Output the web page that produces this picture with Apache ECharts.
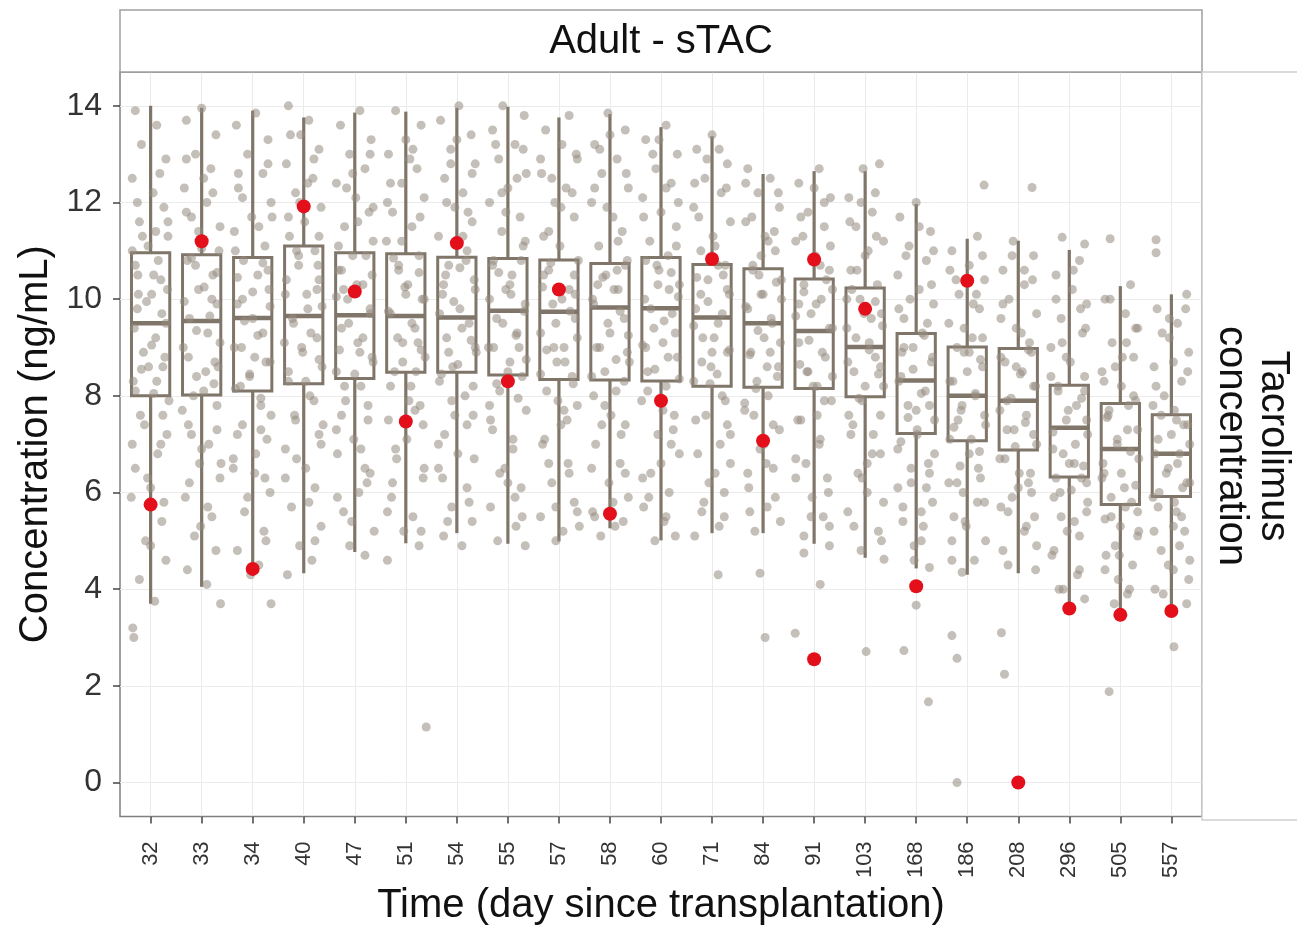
<!DOCTYPE html>
<html>
<head>
<meta charset="utf-8">
<title>Adult - sTAC</title>
<script src="https://cdn.jsdelivr.net/npm/echarts@6/dist/echarts.min.js"></script>
<style>
html, body { margin: 0; padding: 0; background: #fff; }
#chart { width: 1297px; height: 931px; }
</style>
</head>
<body>
<div id="chart"></div>
<script>
// days since transplantation (x categories)
var days = ['32', '33', '34', '40', '47', '51', '54', '55', '57', '58', '60',
  '71', '84', '91', '103', '168', '186', '208', '296', '505', '557'];

// box stats per day: [lower whisker, Q1, median, Q3, upper whisker]
var boxStats = [
  [3.70, 8.00, 9.50, 10.96, 14.00],
  [4.05, 8.02, 9.55, 10.92, 13.96],
  [4.28, 8.10, 9.61, 10.86, 13.90],
  [4.33, 8.25, 9.65, 11.10, 13.76],
  [4.77, 8.36, 9.67, 10.96, 13.86],
  [4.95, 8.49, 9.65, 10.94, 13.88],
  [5.16, 8.49, 9.62, 10.87, 13.96],
  [4.94, 8.43, 9.76, 10.84, 13.98],
  [4.99, 8.34, 9.74, 10.81, 13.76],
  [5.26, 8.33, 9.83, 10.74, 13.83],
  [5.01, 8.31, 9.81, 10.86, 13.56],
  [5.16, 8.20, 9.62, 10.72, 13.37],
  [5.16, 8.18, 9.50, 10.63, 12.59],
  [4.94, 8.15, 9.34, 10.42, 12.65],
  [4.65, 7.98, 9.01, 10.23, 12.65],
  [4.43, 7.22, 8.32, 9.29, 11.97],
  [4.30, 7.07, 8.00, 9.01, 11.25],
  [4.33, 6.88, 7.90, 8.98, 11.21],
  [3.71, 6.32, 7.34, 8.22, 11.02],
  [3.55, 5.75, 6.90, 7.84, 10.27],
  [3.60, 5.92, 6.80, 7.61, 10.10]
];

// observed concentrations, [jitter offset, value], one list per day (spread / tails)
var obs = [
  [[-0.3,13.9],[0.12,13.6],[-0.18,13.2],[0.3,12.9],[-0.36,12.5],[0.05,12.2],[0.26,11.9],[-0.22,11.6],[0.34,11.3],[-0.05,11.1],[-0.3,10.7],[0.2,10.4],[0.02,10.1],[-0.26,9.8],[0.3,9.5],[0.1,9.2],[-0.14,8.9],[0.24,8.6],[-0.34,8.3],[0.06,8.05],[-0.2,7.6],[0.32,7.2],[0.14,6.8],[-0.3,6.5],[0.0,6.1],[-0.38,5.9],[0.22,5.4],[-0.1,5.0],[0.3,4.6],[-0.22,4.2],[0.08,3.75],[-0.35,3.2],[-0.33,3.0]],
  [[0.0,13.95],[-0.3,13.7],[0.28,13.4],[-0.12,13.0],[0.18,12.7],[-0.34,12.3],[0.1,12.0],[-0.2,11.7],[0.36,11.5],[0.0,11.05],[-0.28,10.8],[0.22,10.5],[-0.06,10.2],[0.3,9.9],[-0.24,9.6],[0.12,9.3],[-0.36,9.0],[0.26,8.7],[-0.1,8.4],[0.04,8.1],[0.3,7.8],[-0.26,7.4],[0.14,7.0],[-0.04,6.6],[0.36,6.3],[-0.32,5.9],[0.2,5.5],[-0.14,5.1],[0.28,4.8],[-0.28,4.4],[0.1,4.1],[0.37,3.7]],
  [[0.06,13.85],[-0.32,13.6],[0.3,13.3],[-0.1,13.0],[0.2,12.6],[-0.28,12.3],[0.36,12.0],[-0.02,11.7],[-0.36,11.4],[0.24,11.1],[-0.18,10.8],[0.1,10.5],[0.32,10.2],[-0.3,9.9],[0.0,9.6],[0.2,9.3],[-0.22,9.0],[0.34,8.7],[-0.06,8.4],[-0.34,8.15],[0.16,7.8],[-0.2,7.4],[0.28,7.1],[-0.38,6.7],[0.04,6.4],[0.34,6.0],[-0.16,5.6],[0.22,5.2],[-0.3,4.8],[0.12,4.5],[-0.04,4.3],[0.36,3.7]],
  [[-0.3,14.0],[0.1,13.7],[-0.06,13.4],[0.3,13.1],[-0.34,12.8],[0.18,12.5],[-0.16,12.2],[0.34,11.9],[0.02,11.6],[-0.28,11.3],[0.22,11.0],[-0.1,10.7],[0.3,10.4],[-0.36,10.1],[0.08,9.8],[-0.2,9.5],[0.26,9.2],[-0.02,8.9],[0.36,8.6],[-0.3,8.3],[0.12,8.0],[-0.18,7.6],[0.3,7.2],[-0.36,6.9],[0.04,6.5],[0.22,6.1],[-0.24,5.7],[0.34,5.3],[-0.08,4.9],[0.16,4.6],[-0.32,4.3]],
  [[0.1,13.9],[-0.28,13.6],[0.32,13.3],[-0.1,13.0],[0.2,12.7],[-0.36,12.4],[0.02,12.1],[0.28,11.8],[-0.2,11.5],[0.36,11.2],[-0.04,10.9],[-0.32,10.6],[0.16,10.3],[-0.14,10.0],[0.3,9.7],[-0.26,9.4],[0.06,9.1],[0.34,8.8],[-0.36,8.5],[0.12,8.2],[-0.18,7.9],[0.26,7.5],[-0.02,7.1],[-0.34,6.8],[0.3,6.4],[0.08,6.0],[-0.22,5.6],[0.38,5.2],[-0.1,4.9],[0.2,4.7]],
  [[-0.2,13.9],[0.3,13.6],[0.0,13.3],[-0.34,13.0],[0.22,12.7],[-0.08,12.4],[0.36,12.1],[-0.26,11.8],[0.12,11.5],[-0.38,11.2],[0.26,10.9],[-0.14,10.6],[0.04,10.3],[0.32,10.0],[-0.3,9.7],[0.18,9.4],[-0.06,9.1],[0.38,8.8],[-0.22,8.5],[0.1,8.2],[0.28,7.8],[-0.34,7.5],[0.02,7.1],[-0.18,6.7],[0.34,6.3],[-0.28,5.9],[0.14,5.5],[-0.04,5.2],[0.26,4.9],[-0.36,4.6],[0.4,1.15]],
  [[0.04,14.0],[-0.32,13.7],[0.28,13.4],[-0.12,13.1],[0.36,12.8],[-0.24,12.5],[0.12,12.2],[-0.04,11.9],[0.3,11.6],[-0.36,11.3],[0.2,11.0],[-0.16,10.7],[0.34,10.4],[-0.28,10.1],[0.06,9.8],[0.24,9.5],[-0.2,9.2],[0.38,8.9],[-0.08,8.6],[-0.34,8.3],[0.16,8.0],[0.32,7.6],[-0.24,7.2],[0.02,6.8],[-0.36,6.5],[0.2,6.1],[-0.1,5.7],[0.3,5.4],[-0.26,5.1],[0.1,4.9]],
  [[-0.1,14.0],[0.32,13.8],[-0.3,13.5],[0.14,13.2],[-0.18,12.9],[0.36,12.6],[0.0,12.3],[-0.36,12.0],[0.24,11.7],[-0.12,11.4],[0.3,11.1],[-0.28,10.8],[0.08,10.5],[-0.04,10.2],[0.34,9.9],[-0.22,9.6],[0.18,9.3],[-0.38,9.0],[0.04,8.7],[0.28,8.4],[-0.16,8.1],[0.36,7.7],[-0.3,7.3],[0.1,6.9],[-0.06,6.5],[0.26,6.1],[-0.34,5.7],[0.16,5.3],[-0.2,5.0],[0.34,4.9]],
  [[0.2,13.8],[-0.26,13.5],[0.06,13.2],[0.36,12.9],[-0.34,12.6],[0.14,12.3],[-0.08,12.0],[0.3,11.7],[-0.2,11.4],[0.02,11.1],[0.38,10.8],[-0.3,10.5],[0.2,10.2],[-0.12,9.9],[0.32,9.6],[-0.36,9.3],[0.1,9.0],[-0.04,8.7],[0.26,8.4],[-0.24,8.1],[0.36,7.8],[0.04,7.4],[-0.32,7.0],[0.18,6.6],[-0.14,6.2],[0.3,5.8],[-0.36,5.5],[0.08,5.2],[-0.06,5.0],[0.4,5.3]],
  [[-0.04,13.85],[0.3,13.5],[-0.3,13.2],[0.14,12.9],[-0.16,12.6],[0.36,12.3],[-0.36,12.0],[0.06,11.7],[0.24,11.4],[-0.22,11.1],[0.34,10.8],[-0.08,10.5],[0.16,10.2],[-0.32,9.9],[0.28,9.6],[0.0,9.3],[-0.2,9.0],[0.38,8.7],[-0.36,8.4],[0.12,8.1],[-0.1,7.8],[0.3,7.4],[-0.28,7.0],[0.2,6.6],[-0.02,6.2],[0.36,5.9],[-0.34,5.6],[0.1,5.3],[-0.18,5.1],[0.26,5.4]],
  [[0.1,13.6],[-0.3,13.3],[0.32,13.0],[-0.1,12.7],[0.2,12.4],[-0.36,12.1],[0.0,11.8],[0.3,11.5],[-0.22,11.2],[0.14,10.9],[-0.04,10.6],[0.36,10.3],[-0.32,10.0],[0.22,9.7],[-0.14,9.4],[0.04,9.1],[0.32,8.8],[-0.26,8.5],[0.1,8.2],[-0.38,7.9],[0.26,7.6],[-0.06,7.2],[0.36,6.8],[-0.2,6.4],[0.16,6.0],[-0.34,5.7],[0.06,5.4],[0.28,5.1],[-0.12,5.0]],
  [[0.0,13.4],[-0.3,13.1],[0.3,12.8],[-0.14,12.5],[0.18,12.2],[-0.36,11.9],[0.36,11.6],[0.02,11.3],[-0.22,11.0],[0.26,10.7],[-0.08,10.4],[0.34,10.1],[-0.32,9.8],[0.12,9.5],[-0.18,9.2],[0.3,8.9],[-0.02,8.6],[-0.36,8.3],[0.2,8.0],[-0.12,7.6],[0.36,7.2],[-0.28,6.8],[0.06,6.4],[0.24,6.0],[-0.2,5.6],[0.14,5.3],[-0.34,5.1],[0.12,4.3]],
  [[-0.3,12.7],[0.14,12.5],[-0.1,12.2],[0.32,11.9],[-0.34,11.6],[0.04,11.3],[0.24,11.0],[-0.2,10.7],[0.36,10.4],[-0.04,10.1],[-0.3,9.8],[0.18,9.5],[0.02,9.2],[-0.24,8.9],[0.3,8.6],[-0.12,8.3],[0.1,8.0],[-0.36,7.7],[0.32,7.3],[-0.06,6.9],[0.2,6.5],[-0.28,6.1],[0.08,5.7],[0.34,5.4],[-0.16,5.2],[-0.06,4.33],[0.04,3.0]],
  [[0.1,12.7],[-0.3,12.4],[0.32,12.1],[-0.12,11.8],[0.2,11.5],[-0.36,11.2],[0.02,10.9],[0.3,10.6],[-0.2,10.3],[0.14,10.0],[-0.06,9.7],[0.36,9.4],[-0.3,9.1],[0.22,8.8],[-0.14,8.5],[0.06,8.2],[0.34,7.9],[-0.26,7.5],[0.12,7.1],[-0.36,6.7],[0.26,6.3],[-0.04,5.9],[0.18,5.5],[-0.2,5.1],[0.3,4.9],[-0.2,4.75],[-0.37,3.09],[0.12,4.1]],
  [[-0.04,12.7],[0.28,12.8],[-0.32,12.1],[0.14,11.8],[-0.18,11.5],[0.36,11.2],[0.0,10.9],[-0.28,10.6],[0.24,10.3],[-0.1,10.0],[0.32,9.7],[-0.36,9.4],[0.08,9.1],[0.2,8.8],[-0.22,8.5],[0.36,8.2],[-0.06,7.9],[-0.32,7.6],[0.16,7.2],[0.3,6.8],[-0.14,6.4],[0.04,6.0],[-0.34,5.6],[0.26,5.2],[-0.08,4.8],[0.37,4.62],[0.02,2.71]],
  [[0.0,12.0],[-0.32,11.7],[0.28,11.4],[-0.14,11.1],[0.2,10.8],[-0.36,10.5],[0.06,10.2],[0.34,9.9],[-0.24,9.6],[0.12,9.3],[-0.06,9.0],[0.3,8.7],[-0.3,8.4],[0.18,8.1],[-0.16,7.8],[0.36,7.5],[0.02,7.2],[-0.36,6.9],[0.24,6.6],[-0.1,6.2],[0.32,5.8],[-0.26,5.4],[0.1,5.0],[-0.04,4.6],[0.26,4.45],[-0.24,2.73],[0.0,3.67],[0.24,1.67]],
  [[0.2,11.3],[-0.3,11.0],[0.04,10.7],[0.34,10.4],[-0.16,10.1],[0.24,9.8],[-0.36,9.5],[0.1,9.2],[-0.06,8.9],[0.3,8.6],[-0.28,8.3],[0.16,8.0],[-0.12,7.7],[0.36,7.4],[-0.34,7.1],[0.04,6.8],[0.22,6.5],[-0.2,6.2],[0.34,5.8],[-0.04,5.4],[-0.3,5.0],[0.14,4.6],[-0.1,4.35],[0.33,12.36],[-0.3,3.04],[-0.2,2.57],[-0.2,0.0]],
  [[0.27,12.31],[-0.1,11.2],[0.3,10.9],[-0.3,10.6],[0.12,10.3],[-0.18,10.0],[0.36,9.7],[-0.04,9.4],[0.22,9.1],[-0.34,8.8],[0.08,8.5],[0.3,8.2],[-0.22,7.9],[0.16,7.6],[-0.08,7.3],[0.36,7.0],[-0.36,6.7],[0.02,6.4],[0.26,6.0],[-0.2,5.6],[0.12,5.2],[-0.3,4.8],[0.34,4.4],[-0.33,3.1],[-0.27,2.24]],
  [[-0.14,11.28],[0.3,11.14],[0.2,10.8],[-0.26,10.5],[0.06,10.2],[0.34,9.9],[-0.16,9.6],[0.26,9.3],[-0.36,9.0],[0.02,8.7],[0.3,8.4],[-0.22,8.1],[0.14,7.8],[-0.06,7.5],[0.36,7.2],[-0.32,6.9],[0.1,6.6],[0.24,6.3],[-0.18,6.0],[0.34,5.6],[-0.04,5.2],[-0.3,4.8],[0.2,4.4],[-0.12,4.0],[0.3,3.8]],
  [[-0.2,11.25],[0.2,10.3],[-0.3,10.0],[0.1,9.7],[0.34,9.4],[-0.16,9.1],[0.26,8.8],[-0.36,8.5],[0.02,8.2],[0.3,7.9],[-0.24,7.6],[0.14,7.3],[-0.06,7.0],[0.36,6.7],[-0.32,6.4],[0.08,6.1],[0.22,5.8],[-0.18,5.5],[0.34,5.1],[-0.02,4.7],[-0.3,4.4],[0.18,4.0],[-0.12,3.7],[-0.22,1.88]],
  [[-0.3,11.23],[-0.3,10.96],[0.3,10.1],[-0.28,9.8],[0.12,9.5],[-0.04,9.2],[0.34,8.9],[-0.34,8.6],[0.2,8.3],[-0.14,8.0],[0.06,7.7],[0.32,7.4],[-0.26,7.1],[0.16,6.8],[-0.06,6.5],[0.36,6.2],[-0.36,5.9],[0.1,5.6],[0.26,5.2],[-0.2,4.8],[0.04,4.4],[-0.32,4.0],[0.3,3.7],[0.05,2.81]]
];

// more observed concentrations, [jitter offset, value], mostly around the boxes
var obsCore = [
  [[0.15,10.8],[-0.25,10.5],[0.33,10.2],[-0.08,9.95],[0.22,9.7],[-0.32,9.4],[0.02,9.05],[0.28,8.8],[-0.18,8.55],[0.12,8.3],[-0.3,8.1],[0.36,7.9],[-0.12,7.4],[0.2,7.0],[-0.26,12.0],[0.1,11.4],[-0.36,11.0],[0.18,12.6],[-0.06,6.3],[0.26,5.8],[-0.24,10.1],[0.06,10.5],[-0.04,8.6],[0.34,11.6],[-0.16,11.3],[0.24,7.6],[-0.36,7.0],[0.0,4.9]],
  [[-0.2,10.85],[0.3,10.55],[0.05,10.25],[-0.34,9.95],[0.16,9.65],[-0.1,9.35],[0.36,9.1],[-0.26,8.8],[0.08,8.5],[0.24,8.25],[-0.16,8.0],[-0.38,7.7],[0.3,7.3],[0.0,6.9],[-0.3,12.9],[0.22,12.2],[-0.06,11.4],[0.34,11.0],[-0.24,6.2],[0.12,5.7],[0.2,10.0],[-0.12,10.7],[0.32,8.6],[-0.3,11.8],[0.04,12.5],[-0.2,7.2],[0.38,6.6],[-0.02,5.3]],
  [[0.2,10.75],[-0.3,10.45],[0.0,10.15],[0.34,9.85],[-0.16,9.55],[0.1,9.25],[-0.36,9.0],[0.26,8.7],[-0.06,8.45],[-0.24,8.2],[0.16,7.95],[0.36,7.6],[-0.3,7.2],[0.06,6.8],[0.3,12.8],[-0.2,12.1],[0.12,11.5],[-0.34,11.0],[0.24,6.3],[-0.1,5.9],[-0.2,10.0],[0.3,10.6],[0.04,8.8],[0.38,11.7],[-0.28,12.6],[0.16,7.3],[-0.38,6.5],[0.26,5.0]],
  [[-0.14,11.0],[0.28,10.7],[-0.34,10.4],[0.06,10.1],[0.36,9.85],[-0.22,9.6],[0.14,9.3],[-0.04,9.0],[0.3,8.75],[-0.3,8.5],[0.04,8.3],[0.2,7.9],[-0.16,7.5],[0.34,7.0],[-0.26,13.4],[0.2,12.9],[-0.08,12.0],[0.3,11.3],[-0.36,6.3],[0.1,5.8],[0.26,10.2],[-0.1,10.9],[-0.38,9.1],[0.08,12.4],[-0.3,11.7],[0.38,7.4],[-0.14,6.7],[0.22,5.0]],
  [[0.22,10.9],[-0.26,10.6],[0.04,10.3],[-0.36,10.05],[0.3,9.8],[-0.12,9.5],[0.16,9.2],[-0.3,8.95],[0.36,8.7],[0.0,8.45],[-0.2,8.2],[0.26,7.8],[-0.36,7.3],[0.12,6.9],[0.3,13.0],[-0.16,12.3],[0.06,11.6],[-0.32,11.1],[0.24,6.2],[-0.06,5.4],[-0.22,10.2],[0.34,10.5],[0.1,8.9],[-0.04,12.6],[0.36,11.9],[-0.26,7.6],[0.2,6.5],[-0.34,5.9]],
  [[-0.24,10.85],[0.26,10.55],[-0.02,10.25],[0.36,10.0],[-0.34,9.75],[0.12,9.5],[-0.16,9.2],[0.3,8.95],[-0.06,8.7],[0.2,8.5],[-0.3,8.2],[0.06,7.9],[0.34,7.4],[-0.2,6.9],[0.14,13.1],[-0.3,12.4],[0.28,11.7],[-0.08,11.2],[0.36,6.5],[-0.36,5.6],[0.0,10.1],[-0.14,10.7],[0.24,9.1],[-0.36,12.0],[0.08,12.9],[0.18,7.7],[-0.26,6.2],[0.3,5.2]],
  [[0.18,10.8],[-0.22,10.5],[0.36,10.2],[-0.06,9.95],[-0.34,9.7],[0.1,9.4],[0.28,9.15],[-0.16,8.9],[0.02,8.65],[-0.3,8.45],[0.32,8.2],[-0.1,7.9],[0.2,7.4],[-0.36,7.0],[0.0,13.3],[0.3,12.6],[-0.2,12.0],[0.12,11.3],[-0.28,6.3],[0.24,5.8],[-0.26,10.3],[0.06,10.65],[0.36,9.0],[-0.12,12.8],[0.22,11.8],[-0.04,7.6],[0.34,6.7],[-0.18,5.4]],
  [[0.26,10.8],[-0.18,10.55],[0.04,10.3],[-0.36,10.0],[0.32,9.75],[-0.1,9.5],[0.16,9.25],[-0.28,9.0],[0.36,8.75],[0.0,8.5],[-0.22,8.25],[0.2,7.95],[-0.34,7.5],[0.1,7.1],[-0.24,13.2],[0.18,12.5],[-0.04,11.8],[0.34,11.2],[-0.16,6.4],[0.28,5.5],[0.06,10.1],[-0.3,10.7],[0.22,9.0],[-0.12,12.2],[0.3,13.1],[-0.36,7.8],[0.0,6.2],[0.14,5.9]],
  [[-0.16,10.75],[0.3,10.5],[-0.32,10.25],[0.06,10.0],[0.22,9.75],[-0.06,9.5],[0.36,9.2],[-0.24,8.95],[0.12,8.7],[-0.36,8.45],[0.28,8.25],[-0.02,7.9],[0.16,7.5],[-0.28,7.1],[0.34,13.0],[-0.14,12.5],[0.04,11.9],[-0.3,11.3],[0.2,6.4],[-0.06,5.7],[0.32,10.1],[-0.2,10.6],[-0.1,9.0],[0.26,12.2],[-0.36,12.9],[0.1,7.7],[-0.2,6.6],[0.36,5.6]],
  [[0.3,10.7],[-0.14,10.45],[0.08,10.2],[-0.34,10.0],[0.2,9.75],[-0.04,9.5],[0.36,9.25],[-0.26,9.0],[0.12,8.75],[-0.1,8.5],[0.28,8.3],[-0.32,8.0],[0.02,7.6],[0.22,7.2],[-0.2,13.1],[0.32,12.6],[-0.06,11.9],[0.16,11.2],[-0.36,6.5],[0.06,5.8],[-0.24,10.3],[0.14,10.6],[0.34,8.9],[-0.3,12.3],[0.0,13.4],[-0.16,7.4],[0.3,6.4],[-0.3,5.5]],
  [[-0.3,10.8],[0.2,10.55],[-0.06,10.3],[0.34,10.05],[-0.2,9.8],[0.06,9.55],[0.28,9.3],[-0.36,9.05],[0.14,8.8],[-0.12,8.55],[0.36,8.35],[-0.26,8.1],[0.04,7.7],[0.24,7.3],[-0.16,13.0],[0.1,12.3],[-0.34,11.7],[0.3,11.1],[0.0,6.6],[-0.24,5.9],[0.16,10.2],[-0.08,10.7],[-0.3,9.0],[0.34,12.0],[-0.04,13.3],[0.2,7.0],[-0.36,6.3],[0.1,5.5]],
  [[0.12,10.7],[-0.3,10.45],[0.3,10.2],[-0.08,9.95],[0.2,9.7],[-0.36,9.45],[0.04,9.2],[0.34,8.95],[-0.2,8.7],[0.1,8.45],[-0.04,8.25],[0.26,7.9],[-0.32,7.5],[0.16,7.0],[-0.1,12.9],[0.28,12.3],[-0.26,11.7],[0.06,11.1],[0.36,6.6],[-0.16,5.8],[-0.22,10.1],[0.22,10.5],[0.0,8.9],[-0.34,12.4],[0.14,13.1],[0.3,7.4],[-0.06,6.2],[0.24,5.5]],
  [[-0.2,10.6],[0.26,10.35],[0.0,10.1],[-0.34,9.85],[0.16,9.6],[-0.1,9.35],[0.34,9.1],[-0.26,8.85],[0.08,8.6],[0.28,8.4],[-0.14,8.15],[-0.36,7.85],[0.2,7.4],[0.02,7.0],[0.3,12.2],[-0.22,11.7],[0.1,11.2],[-0.04,10.9],[-0.3,6.4],[0.24,5.9],[0.36,10.0],[-0.08,10.5],[0.14,8.9],[-0.34,12.4],[0.22,11.4],[-0.18,7.6],[0.06,6.6],[-0.26,5.6]],
  [[0.24,10.4],[-0.2,10.15],[0.04,9.9],[-0.36,9.65],[0.3,9.4],[-0.1,9.15],[0.16,8.9],[-0.28,8.65],[0.36,8.4],[-0.02,8.2],[0.2,7.9],[-0.32,7.5],[0.1,7.0],[-0.16,6.6],[0.0,12.3],[-0.26,11.7],[0.32,11.1],[0.12,10.7],[0.28,6.0],[-0.06,5.5],[-0.3,9.9],[0.36,10.2],[-0.12,8.5],[0.2,12.0],[-0.22,11.3],[0.06,7.6],[-0.36,6.3],[0.3,5.3]],
  [[-0.26,10.2],[0.2,9.95],[-0.02,9.7],[0.34,9.45],[-0.18,9.2],[0.08,8.95],[-0.34,8.7],[0.26,8.45],[0.0,8.2],[-0.12,7.95],[0.3,7.6],[-0.28,7.2],[0.14,6.8],[-0.06,6.3],[0.2,12.2],[-0.3,11.6],[0.06,11.0],[-0.16,10.6],[0.36,5.8],[-0.22,5.3],[0.12,9.6],[-0.36,10.0],[0.3,8.6],[-0.08,12.0],[0.22,11.3],[-0.24,7.4],[0.04,6.6],[0.32,5.0]],
  [[0.16,9.25],[-0.24,9.0],[0.32,8.8],[-0.06,8.55],[-0.34,8.3],[0.1,8.05],[0.26,7.8],[-0.16,7.55],[0.02,7.3],[-0.3,7.05],[0.36,6.8],[-0.1,6.5],[0.2,6.1],[-0.26,5.7],[0.06,11.5],[-0.2,10.9],[0.3,10.3],[-0.34,9.8],[0.14,5.3],[-0.04,4.9],[-0.28,8.9],[0.22,9.5],[0.0,7.7],[0.34,11.0],[-0.12,10.0],[0.26,6.4],[-0.36,6.1],[0.1,5.6]],
  [[-0.2,9.0],[0.26,8.75],[0.0,8.5],[-0.34,8.3],[0.16,8.05],[-0.1,7.8],[0.34,7.6],[-0.26,7.35],[0.08,7.1],[0.24,6.85],[-0.14,6.55],[-0.36,6.2],[0.2,5.8],[-0.02,5.3],[0.3,10.9],[-0.22,10.4],[0.12,9.9],[-0.06,9.4],[0.36,5.0],[-0.3,4.6],[0.04,8.9],[0.3,9.2],[-0.18,7.5],[-0.34,10.6],[0.18,10.1],[-0.08,6.0],[0.26,6.3],[-0.26,5.5]],
  [[0.2,8.95],[-0.26,8.7],[0.04,8.45],[0.34,8.2],[-0.14,7.95],[-0.36,7.7],[0.14,7.45],[0.3,7.2],[-0.06,6.95],[-0.26,6.7],[0.24,6.4],[0.0,6.1],[-0.34,5.7],[0.16,5.3],[-0.12,10.9],[0.28,10.4],[-0.3,9.9],[0.06,9.3],[0.36,4.9],[-0.2,4.5],[-0.04,8.6],[0.26,8.9],[-0.22,7.3],[0.12,10.6],[-0.34,9.6],[0.2,6.2],[-0.12,5.9],[0.32,5.5]],
  [[-0.22,8.2],[0.24,7.95],[-0.02,7.7],[0.34,7.5],[-0.32,7.25],[0.12,7.0],[-0.12,6.8],[0.28,6.55],[-0.26,6.3],[0.04,6.05],[0.36,5.8],[-0.16,5.5],[0.2,5.1],[-0.34,4.7],[0.08,10.6],[-0.26,10.0],[0.32,9.4],[-0.06,8.8],[0.16,4.3],[-0.2,4.0],[0.3,8.1],[-0.36,8.4],[0.0,6.6],[0.22,9.8],[-0.14,9.1],[0.34,6.2],[-0.3,5.9],[0.1,5.4]],
  [[0.16,7.8],[-0.26,7.55],[0.34,7.3],[-0.06,7.1],[0.2,6.85],[-0.34,6.6],[0.02,6.4],[0.3,6.15],[-0.18,5.9],[0.1,5.7],[-0.3,5.45],[0.36,5.2],[-0.1,4.9],[0.24,4.5],[-0.2,10.0],[0.3,9.4],[0.04,8.8],[-0.32,8.3],[-0.04,4.2],[0.14,3.9],[-0.22,7.7],[0.26,8.0],[-0.36,6.3],[0.12,9.1],[-0.1,8.6],[0.34,5.6],[0.0,5.3],[-0.28,4.7]],
  [[-0.2,7.6],[0.24,7.4],[0.0,7.2],[0.36,7.0],[-0.32,6.8],[0.12,6.6],[-0.1,6.4],[0.3,6.2],[-0.24,6.0],[0.06,5.8],[0.2,5.5],[-0.34,5.2],[0.16,4.9],[-0.06,4.5],[0.28,9.8],[-0.18,9.3],[0.04,8.7],[-0.3,8.2],[0.34,4.2],[-0.16,3.9],[0.1,7.5],[-0.36,7.8],[0.22,6.1],[-0.04,9.6],[0.32,8.5],[-0.26,5.7],[0.04,5.3],[0.36,4.6]]
];

// highlighted patient, [day index, value]
var patient = [
  [0, 5.75], [1, 11.2], [2, 4.42], [3, 11.92], [4, 10.16], [5, 7.47], [6, 11.16],
  [7, 8.3], [8, 10.2], [9, 5.56], [10, 7.9], [11, 10.83], [12, 7.07], [13, 10.82],
  [13, 2.55], [14, 9.8], [15, 4.06], [16, 10.38], [17, 0], [18, 3.6], [19, 3.47], [20, 3.55]
];

var yTicks = [0, 2, 4, 6, 8, 10, 12, 14];

var boxColor = '#807569';
var font = 'Liberation Sans, Arial, Helvetica, sans-serif';

var boxData = boxStats.map(function (s, i) { return [i].concat(s); });
var xTicks = days.map(function (d, i) { return i; });
var jitterData = [];
obs.concat(obsCore).forEach(function (list, k) {
  var i = k % days.length;
  list.forEach(function (p) { jitterData.push([i + p[0], p[1]]); });
});

var chart = echarts.init(document.getElementById('chart'));

var option = {
  backgroundColor: '#fff',
  animation: false,
  textStyle: { fontFamily: font },
  grid: {
    left: 120, right: 95, top: 72, bottom: 111,
    show: true, borderColor: '#7f7f7f', borderWidth: 1.5, backgroundColor: '#fff'
  },
  xAxis: {
    type: 'value',
    min: -0.6, max: 20.6,
    name: 'Time (day since transplantation)',
    nameLocation: 'middle',
    nameGap: 64,
    nameTextStyle: { fontSize: 40, color: '#111', fontFamily: font },
    axisLine: { show: false, onZero: false },
    axisTick: { show: true, length: 7, lineStyle: { color: '#444', width: 1.5 }, customValues: xTicks },
    axisLabel: {
      rotate: 90, fontSize: 22, color: '#333', margin: 25,
      customValues: xTicks,
      formatter: function (v) { return days[Math.round(v)]; }
    },
    splitLine: { show: true, lineStyle: { color: '#ebebeb', width: 1 } }
  },
  yAxis: {
    type: 'value',
    min: -0.7, max: 14.7,
    name: 'Concentration (ng/mL)',
    nameLocation: 'middle',
    nameGap: 62,
    nameTextStyle: { fontSize: 40, color: '#111', fontFamily: font },
    axisLine: { show: false, onZero: false },
    axisTick: { show: true, length: 7, lineStyle: { color: '#444', width: 1.5 }, customValues: yTicks },
    axisLabel: { fontSize: 32, color: '#333', margin: 18, customValues: yTicks },
    splitLine: { show: true, lineStyle: { color: '#ebebeb', width: 1 } }
  },
  series: [
    {
      type: 'custom',
      name: 'box',
      z: 2,
      data: boxData,
      encode: { x: 0, y: [1, 2, 3, 4, 5] },
      renderItem: function (params, api) {
        var x = api.value(0);
        var lo = api.coord([x, api.value(1)]);
        var q1 = api.coord([x, api.value(2)]);
        var med = api.coord([x, api.value(3)]);
        var q3 = api.coord([x, api.value(4)]);
        var hi = api.coord([x, api.value(5)]);
        var half = api.size([0.75, 0])[0] / 2;
        var ls = { stroke: boxColor, lineWidth: 3.2, fill: null };
        return {
          type: 'group',
          children: [
            { type: 'line', shape: { x1: hi[0], y1: hi[1], x2: q3[0], y2: q3[1] }, style: ls },
            { type: 'line', shape: { x1: lo[0], y1: lo[1], x2: q1[0], y2: q1[1] }, style: ls },
            { type: 'rect', shape: { x: q3[0] - half, y: q3[1], width: half * 2, height: q1[1] - q3[1] },
              style: { stroke: boxColor, lineWidth: 3, fill: '#fff' } },
            { type: 'line', shape: { x1: med[0] - half, y1: med[1], x2: med[0] + half, y2: med[1] },
              style: { stroke: boxColor, lineWidth: 4.5 } }
          ]
        };
      }
    },
    {
      type: 'scatter',
      name: 'observed',
      z: 3,
      data: jitterData,
      symbolSize: 9,
      itemStyle: { color: 'rgb(150,138,128)', opacity: 0.55 },
      silent: true
    },
    {
      type: 'scatter',
      name: 'patient',
      z: 4,
      data: patient,
      symbolSize: 14,
      itemStyle: { color: '#e3101c', opacity: 1 },
      silent: true
    }
  ],
  graphic: [
    { type: 'rect', z: 10, shape: { x: 120, y: 10, width: 1082, height: 62 },
      style: { fill: '#fff', stroke: '#a0a0a0', lineWidth: 1.5 } },
    { type: 'text', z: 11, x: 661, y: 42,
      style: { text: 'Adult - sTAC', fontSize: 40, fontFamily: font, fill: '#111',
        textAlign: 'center', textVerticalAlign: 'middle', align: 'center', verticalAlign: 'middle' } },
    { type: 'rect', z: 10, shape: { x: 1202, y: 72, width: 120, height: 748 },
      style: { fill: '#fff', stroke: '#d0d0d0', lineWidth: 1.5 } },
    { type: 'text', z: 11, x: 1252, y: 446, rotation: -Math.PI / 2,
      style: { text: 'Tacrolimus\nconcentration', fontSize: 40, lineHeight: 42, fontFamily: font, fill: '#111',
        textAlign: 'center', textVerticalAlign: 'middle', align: 'center', verticalAlign: 'middle' } }
  ]
};

chart.setOption(option);
window.onresize = function () { chart.resize(); };
</script>
</body>
</html>
